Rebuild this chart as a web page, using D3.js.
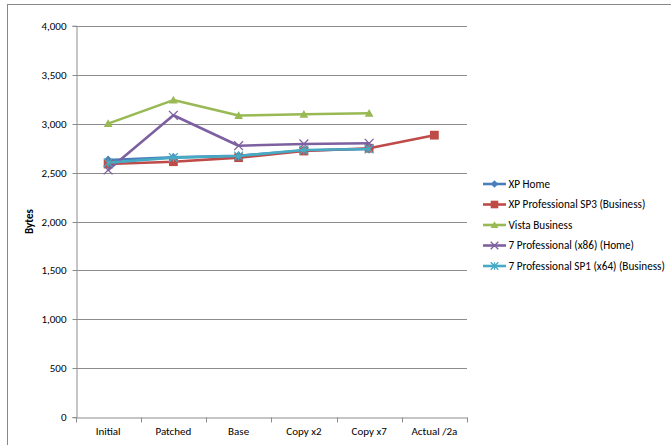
<!DOCTYPE html>
<html>
<head>
<meta charset="utf-8">
<script src="https://cdn.jsdelivr.net/npm/d3@7"></script>
<style>
  html, body { margin: 0; padding: 0; background: #fff; }
  svg { display: block; }
  text { font-family: Carlito, "Liberation Sans Narrow", "Open Sans", sans-serif; fill: #000; }
</style>
</head>
<body>
<svg id="chart" width="671" height="445"></svg>
<script>
// Build stages on the category axis
const categories = ["Initial", "Patched", "Base", "Copy x2", "Copy x7", "Actual /2a"];

// Size in bytes per build (null = not measured)
const xpHome      = [2628, 2655, 2672, 2725, 2740, null];
const xpPro       = [2587, 2611, 2652, 2720, 2748, 2882];
const vistaBiz    = [3000, 3240, 3082, 3095, 3105, null];
const win7Pro86   = [2526, 3085, 2774, 2792, 2799, null];
const win7Pro64   = [2600, 2652, 2669, 2730, 2741, null];

const seriesNames = [
  "XP Home",
  "XP Professional SP3 (Business)",
  "Vista Business",
  "7 Professional (x86) (Home)",
  "7 Professional SP1 (x64) (Business)"
];
const seriesColors = ["#4A7EBB", "#BE4B48", "#98B954", "#7D60A0", "#46AAC5"];
const seriesMarkers = ["diamond", "square", "triangle", "cross", "star"];

const yTicks = [0, 500, 1000, 1500, 2000, 2500, 3000, 3500, 4000];

const series = [xpHome, xpPro, vistaBiz, win7Pro86, win7Pro64].map((vals, i) => ({
  name: seriesNames[i], color: seriesColors[i], marker: seriesMarkers[i], values: vals
}));

const svg = d3.select("#chart");
const plot = { left: 75.5, right: 467, top: 25.7, bottom: 417.3 };

// outer chart frame
svg.append("rect")
  .attr("x", 7.5).attr("y", 4.5).attr("width", 700).attr("height", 480)
  .attr("fill", "none").attr("stroke", "#888").attr("stroke-width", 1);

const x = d3.scaleBand().domain(categories).range([plot.left, plot.right]);
const y = d3.scaleLinear().domain([0, 4000]).range([plot.bottom, plot.top]);

// horizontal gridlines
svg.append("g").selectAll("line").data(yTicks.filter(t => t > 0)).join("line")
  .attr("x1", plot.left).attr("x2", plot.right)
  .attr("y1", d => Math.round(y(d)) + 0.5).attr("y2", d => Math.round(y(d)) + 0.5)
  .attr("stroke", "#8c8c8c").attr("stroke-width", 1);

// y axis
const yAxis = d3.axisLeft(y).tickValues(yTicks).tickSize(4).tickPadding(6)
  .tickFormat(d3.format(","));
const yg = svg.append("g").attr("transform", `translate(${Math.round(plot.left) + 0.5},0)`).call(yAxis);
yg.select(".domain").attr("stroke", "#8c8c8c");
yg.selectAll(".tick line").attr("stroke", "#8c8c8c");
yg.selectAll(".tick text").attr("font-size", 11).attr("fill", "#000");
yg.selectAll(".tick").attr("transform", d => `translate(0,${Math.round(y(d)) + 0.5})`);

// x axis with ticks at category boundaries
const xg = svg.append("g").attr("transform", `translate(0,${Math.round(plot.bottom) + 0.5})`)
  .call(d3.axisBottom(x).tickSize(0).tickPadding(10));
xg.select(".domain").attr("stroke", "#8c8c8c");
xg.selectAll(".tick text").attr("font-size", 11).attr("fill", "#000");
const bounds = categories.map(c => x(c)).concat([x(categories[categories.length - 1]) + x.bandwidth()]);
xg.selectAll(".bnd").data(bounds).join("line")
  .attr("x1", d => Math.round(d) + 0.5).attr("x2", d => Math.round(d) + 0.5)
  .attr("y1", 0).attr("y2", 5).attr("stroke", "#8c8c8c");

// y axis title
svg.append("text")
  .attr("transform", `translate(33,${(plot.top + plot.bottom) / 2}) rotate(-90)`)
  .attr("text-anchor", "middle").attr("font-size", 11).attr("font-weight", "bold")
  .text("Bytes");

function drawMarker(g, type, color, size) {
  const s = size;
  if (type === "diamond") {
    g.append("path").attr("d", `M0,${-s}L${s},0L0,${s}L${-s},0Z`).attr("fill", color);
  } else if (type === "square") {
    g.append("rect").attr("x", -s).attr("y", -s)
      .attr("width", s * 2).attr("height", s * 2).attr("fill", color);
  } else if (type === "triangle") {
    g.append("path").attr("d", `M0,${-s}L${s},${s * 0.8}L${-s},${s * 0.8}Z`).attr("fill", color);
  } else if (type === "cross") {
    g.append("path").attr("d", `M${-s},${-s}L${s},${s}M${-s},${s}L${s},${-s}`)
      .attr("stroke", color).attr("stroke-width", 1.3).attr("fill", "none");
  } else if (type === "star") {
    g.append("path").attr("d", `M${-s},${-s}L${s},${s}M${-s},${s}L${s},${-s}M0,${-s}L0,${s}`)
      .attr("stroke", color).attr("stroke-width", 1.3).attr("fill", "none");
  }
}

const cx = c => x(c) + x.bandwidth() / 2;
const line = d3.line()
  .defined(d => d.v != null)
  .x(d => cx(d.c)).y(d => y(d.v));

series.forEach(s => {
  const pts = s.values.map((v, i) => ({ c: categories[i], v }));
  svg.append("path").datum(pts).attr("d", line)
    .attr("fill", "none").attr("stroke", s.color).attr("stroke-width", 2.6)
    .attr("stroke-linejoin", "round").attr("stroke-linecap", "round");
  pts.filter(p => p.v != null).forEach(p => {
    const g = svg.append("g").attr("transform", `translate(${cx(p.c)},${y(p.v)})`);
    drawMarker(g, s.marker, s.color, 4.4);
  });
});

// legend
const legend = svg.append("g");
series.forEach((s, i) => {
  const ly = 184 + i * 20.5;
  const g = legend.append("g").attr("transform", `translate(0,${ly})`);
  g.append("line").attr("x1", 483).attr("x2", 506).attr("y1", 0).attr("y2", 0)
    .attr("stroke", s.color).attr("stroke-width", 2.6);
  const m = g.append("g").attr("transform", "translate(494.5,0)");
  drawMarker(m, s.marker, s.color, 3.8);
  g.append("text").attr("x", 508.5).attr("y", 0).attr("dy", "0.35em")
    .attr("font-size", 11.2).text(s.name);
});
</script>
</body>
</html>
